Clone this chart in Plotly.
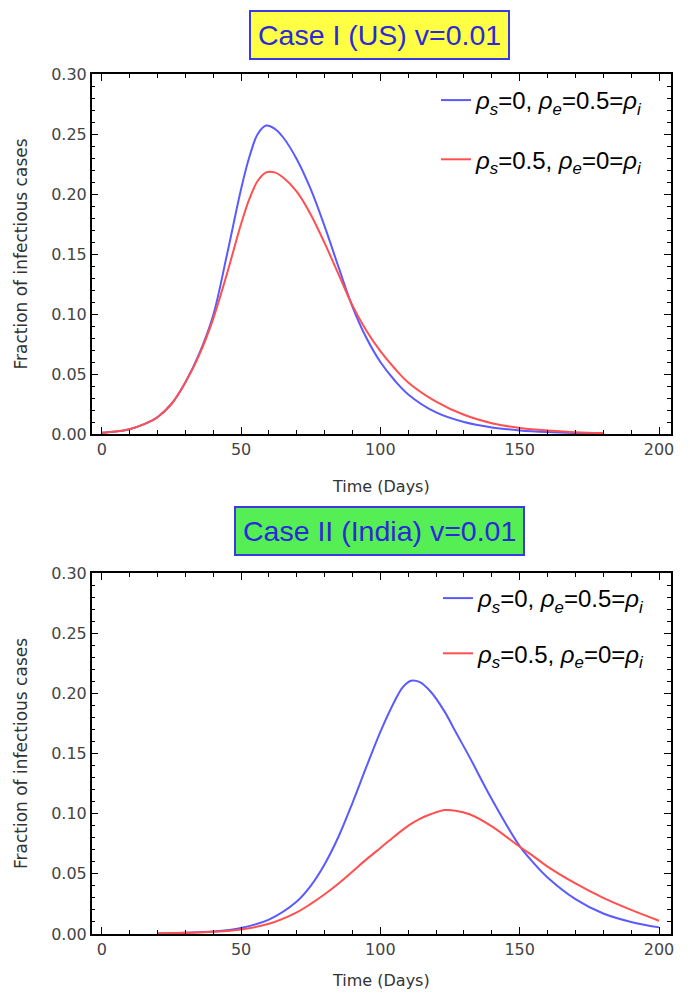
import plotly.graph_objects as go

# ---- Data ----
t_us = [0, 5, 10, 15, 20, 25, 30, 35, 40, 45, 50, 53, 56, 59, 62, 65, 70, 75, 80, 85, 90, 95, 100,
        105, 110, 120, 130, 140, 150, 160, 170, 180]
us_blue = [0.001, 0.002, 0.004, 0.008, 0.014, 0.025, 0.043, 0.067, 0.099, 0.150, 0.204, 0.231, 0.250, 0.257,
           0.2545, 0.2475, 0.229, 0.204, 0.173, 0.139, 0.106, 0.080, 0.060,
           0.045, 0.033, 0.018, 0.010, 0.0055, 0.003, 0.0016, 0.0008, 0.0004]
us_red = [0.001, 0.002, 0.004, 0.008, 0.014, 0.025, 0.043, 0.066, 0.096, 0.134, 0.175, 0.196, 0.211, 0.218,
          0.218, 0.214, 0.202, 0.183, 0.159, 0.133, 0.107, 0.086, 0.069,
          0.055, 0.043, 0.027, 0.016, 0.009, 0.005, 0.003, 0.0015, 0.0008]

t_in = [20, 30, 40, 50, 60, 70, 75, 80, 85, 90, 95, 100, 105, 108, 111, 114, 118, 123, 127, 132, 140, 150,
        155, 160, 170, 180, 190, 200]
in_blue = [0.0005, 0.001, 0.002, 0.005, 0.012, 0.027, 0.040, 0.058, 0.081, 0.109, 0.139, 0.168, 0.193, 0.205,
           0.2105, 0.2095, 0.2015, 0.185, 0.168, 0.147, 0.112, 0.073, 0.059, 0.047, 0.029, 0.017, 0.010, 0.0055]
in_red = [0.0005, 0.001, 0.0018, 0.0038, 0.0085, 0.018, 0.025, 0.033, 0.042, 0.052, 0.062, 0.0715, 0.081,
          0.0865, 0.0915, 0.0955, 0.0995, 0.103, 0.1025, 0.0995, 0.0895, 0.0725, 0.0645, 0.056, 0.042, 0.030,
          0.020, 0.011]

label_blue = "<i>ρ<sub>s</sub></i>=0, <i>ρ<sub>e</sub></i>=0.5=<i>ρ<sub>i</sub></i>"
label_red = "<i>ρ<sub>s</sub></i>=0.5, <i>ρ<sub>e</sub></i>=0=<i>ρ<sub>i</sub></i>"
titles = ["Case I (US) v=0.01", "Case II (India) v=0.01"]
title_bg = ["#ffff44", "#55ee55"]

x_ticks = [0, 50, 100, 150, 200]
y_ticks = [0.0, 0.05, 0.10, 0.15, 0.20, 0.25, 0.30]

BLUE = "#5a5aff"
RED = "#ff4f4f"
FONT = "Liberation Sans, Arial, sans-serif"
TFONT = "DejaVu Sans, sans-serif"

fig = go.Figure()

fig.add_trace(go.Scatter(x=t_us, y=us_blue, mode="lines", line=dict(color=BLUE, width=2, shape="spline"),
                         name=label_blue, xaxis="x", yaxis="y", legend="legend", legendgroup="a"))
fig.add_trace(go.Scatter(x=t_us, y=us_red, mode="lines", line=dict(color=RED, width=2, shape="spline"),
                         name=label_red, xaxis="x", yaxis="y", legend="legend", legendgroup="b"))
fig.add_trace(go.Scatter(x=t_in, y=in_blue, mode="lines", line=dict(color=BLUE, width=2, shape="spline"),
                         name=label_blue, xaxis="x2", yaxis="y2", legend="legend2", legendgroup="c"))
fig.add_trace(go.Scatter(x=t_in, y=in_red, mode="lines", line=dict(color=RED, width=2, shape="spline"),
                         name=label_red, xaxis="x2", yaxis="y2", legend="legend2", legendgroup="d"))

# page has an 8px body margin: figure is 674x982, placed at (8, 8) in the 690x998 window
OFF = 8
W, H = 690 - 2 * OFF, 998 - 2 * OFF

def px(x):
    return (x - OFF) / W

def py(y):
    return 1 - (y - OFF) / H

xd = [px(91.7), px(671)]
yd_top = [py(434), py(74)]
yd_bot = [py(934), py(573)]

def xax(domain, anchor):
    return dict(domain=domain, anchor=anchor, range=[-3.6, 204.3], tickvals=x_ticks, automargin=False,
                ticks="inside", ticklen=7, tickwidth=1.2, tickcolor="black",
                minor=dict(dtick=10, tick0=0, ticks="inside", ticklen=4, tickcolor="black", tickwidth=1),
                showline=True, linecolor="black", linewidth=1.5, mirror="ticks", showgrid=False,
                zeroline=False, tickfont=dict(size=16, color="#444", family=TFONT),
                title=dict(text="Time (Days)", font=dict(size=16, color="#333", family=TFONT), standoff=23))

def yax(domain, anchor):
    return dict(domain=domain, anchor=anchor, range=[0, 0.30], tickvals=y_ticks, tickformat=".2f",
                automargin=False,
                ticks="inside", ticklen=7, tickwidth=1.2, tickcolor="black",
                minor=dict(dtick=0.01, tick0=0, ticks="inside", ticklen=4, tickcolor="black", tickwidth=1),
                showline=True, linecolor="black", linewidth=1.5, mirror="ticks", showgrid=False,
                zeroline=False, tickfont=dict(size=16, color="#444", family=TFONT),
                title=dict(text="Fraction of infectious cases", font=dict(size=17, color="#333", family=TFONT),
                           standoff=19))

leg_common = dict(xanchor="left", yanchor="top", bgcolor="rgba(0,0,0,0)",
                  font=dict(size=24, color="black", family=FONT), itemwidth=30)

fig.update_layout(
    width=W, height=H, margin=dict(l=0, r=0, t=0, b=0, autoexpand=False),
    paper_bgcolor="white", plot_bgcolor="white",
    font=dict(family=FONT),
    xaxis=xax(xd, "y"), yaxis=yax(yd_top, "x"),
    xaxis2=xax(xd, "y2"), yaxis2=yax(yd_bot, "x2"),
    legend=dict(x=px(436), y=py(78), tracegroupgap=25, **leg_common),
    legend2=dict(x=px(438), y=py(576), tracegroupgap=21, **leg_common),
    showlegend=True,
)

for i, (txt, bg, ycen) in enumerate(zip(titles, title_bg, [35, 531])):
    fig.add_annotation(text=txt, xref="paper", yref="paper", x=px(379), y=py(ycen),
                       xanchor="center", yanchor="middle", showarrow=False,
                       font=dict(size=28.5, color="#2a2ad8", family=FONT),
                       bgcolor=bg, bordercolor="#3a3ae0", borderwidth=2, borderpad=7)

fig.write_html("out.html")
